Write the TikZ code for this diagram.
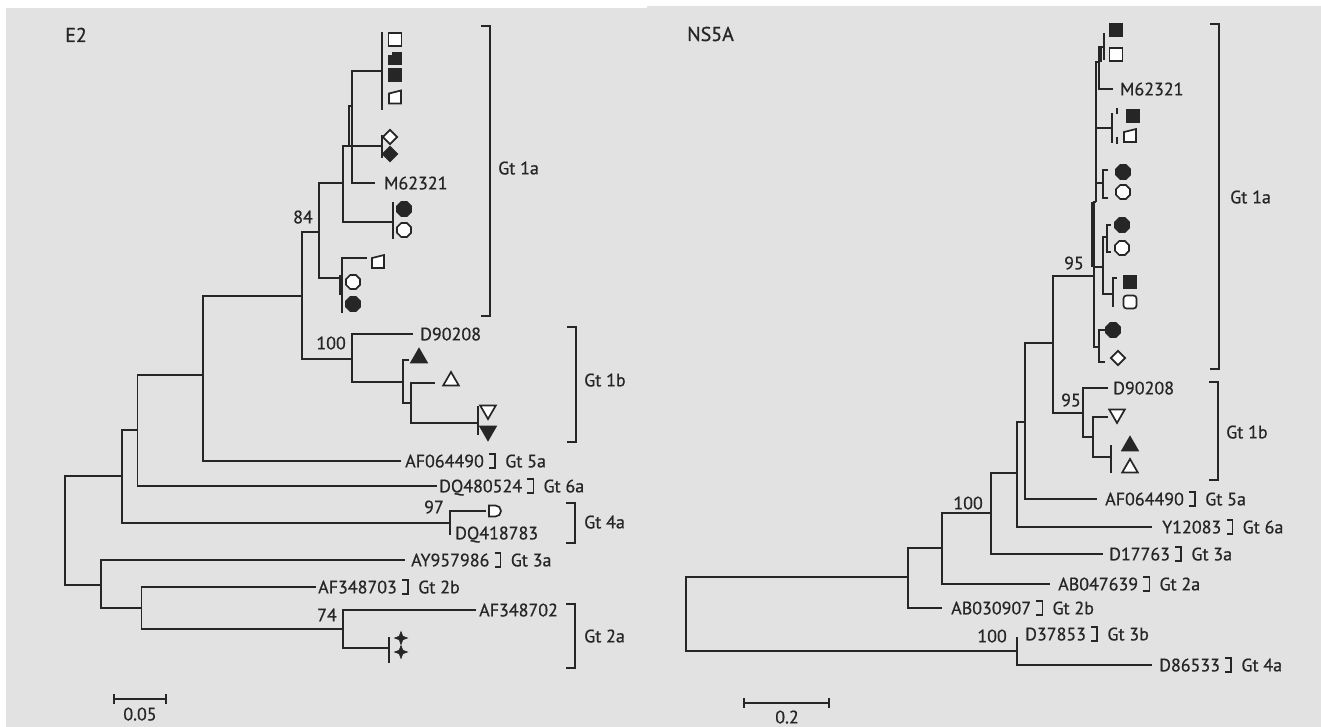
\documentclass[tikz,border=0pt]{standalone}
\usepackage{fontspec}
\setmainfont{PT Sans}[FakeBold=0.7]
\usetikzlibrary{shapes.geometric,shapes.misc}
\definecolor{bg}{HTML}{E2E2E2}
\definecolor{ink}{HTML}{262626}
\tikzset{
  br/.style={draw=ink, line width=1.5pt},
  lbl/.style={font=\fontsize{18}{18}\selectfont, text=ink, inner sep=0pt, text height=12.7pt, text depth=0pt},
  ttl/.style={font=\fontsize{20}{20}\selectfont, text=ink, inner sep=0pt, text height=14pt, text depth=0pt},
  sym/.style={draw=ink, line width=1.7pt, inner sep=0pt},
  sqo/.style={sym, rectangle, minimum width=13pt, minimum height=13pt, fill=white},
  sqf/.style={sym, rectangle, minimum width=13pt, minimum height=13pt, fill=ink},
  hxo/.style={sym, regular polygon, regular polygon sides=8, minimum size=15pt, fill=white},
  hxf/.style={sym, regular polygon, regular polygon sides=8, minimum size=15pt, fill=ink},
  dmo/.style={sym, diamond, minimum width=15pt, minimum height=15pt, fill=white},
  dmf/.style={sym, diamond, minimum width=15pt, minimum height=15pt, fill=ink},
  tuo/.style={sym, regular polygon, regular polygon sides=3, minimum size=18pt, fill=white},
  tuf/.style={sym, regular polygon, regular polygon sides=3, minimum size=18pt, fill=ink},
  tdo/.style={tuo, shape border rotate=180},
  tdf/.style={tuf, shape border rotate=180},
  dsh/.style={sym, rounded rectangle, rounded rectangle west arc=none, minimum width=12pt, minimum height=11pt, fill=white},
  stf/.style={sym, star, star points=4, star point ratio=2.6, minimum size=13pt, fill=ink, line width=0.6pt},
  nsq/.style={draw=ink, line width=1.7pt, line join=miter},
}
\newcommand\gtlab[6]{%
  \node[lbl,anchor=west] (#1) at (#2,#3) {#4};
  \draw[br] ([xshift=5pt,yshift=7pt]#1.east) -| ([xshift=11pt]#1.east) |- ([xshift=5pt,yshift=-7pt]#1.east);
  \node[lbl,anchor=west] (#6) at ([xshift=21pt]#1.east) {#5};}
% notched open square (top edge rising to the right)
\newcommand\nsqo[2]{\filldraw[nsq,fill=white] (#1-6,#2-4) -- (#1+6,#2-7) -- (#1+6,#2+6) -- (#1-6,#2+6) -- cycle;}
% notched filled square (step at top left)
\newcommand\nsqf[2]{\filldraw[nsq,fill=ink] (#1-6,#2-3) -- (#1-2,#2-3) -- (#1-2,#2-6) -- (#1+6,#2-6) -- (#1+6,#2+6) -- (#1-6,#2+6) -- cycle;}
\begin{document}
\begin{tikzpicture}[x=1pt,y=-1pt]
\useasboundingbox (0,0) rectangle (1321,727);
\fill[white] (0,0) rectangle (1321,727);
\fill[bg] (6,8) rectangle (647,727);
\fill[bg] (647,6) rectangle (1321,727);

% ================= LEFT PANEL (E2) =================
\node[ttl,anchor=west] (tE2) at (65,35) {E2};
\coordinate (L0) at (65,530);
\coordinate (L1) at (122,476);
\coordinate (L2) at (101,585);
\coordinate (L3) at (137.5,430);
\coordinate (L4) at (450,523);
\coordinate (L5) at (203,375);
\coordinate (eDQ480524) at (437,486);
\coordinate (L6) at (302,296);
\coordinate (eAF064490L) at (401,461);
\coordinate (L7) at (319,232);
\coordinate (L8) at (352,359);
\coordinate (L9) at (343,183);
\coordinate (L10) at (342,278);
\coordinate (L11) at (349,146);
\coordinate (H1) at (393,222);
\coordinate (L12) at (352,106);
\coordinate (D1) at (382,146);
\coordinate (T1) at (382,71);
\coordinate (eM62321L) at (375,183);
\coordinate (T1a) at (382,32);
\coordinate (T1b) at (382,110);
\coordinate (D1a) at (382,135);
\coordinate (D1b) at (382,158);
\coordinate (H1a) at (393,202);
\coordinate (H1b) at (393,239);
\coordinate (eL10q) at (367,258);
\coordinate (L10b) at (342,313);
\coordinate (eD90208L) at (413,334);
\coordinate (L13) at (403,382);
\coordinate (eL13a) at (409,360);
\coordinate (L14) at (411,403);
\coordinate (eL14a) at (435,383);
\coordinate (L15) at (478,423);
\coordinate (L15a) at (478,406);
\coordinate (L15b) at (478,435);
\coordinate (eL4a) at (486,511);
\coordinate (eL4b) at (450,535);
\coordinate (eAY957986) at (405,560);
\coordinate (L16) at (141.5,608);
\coordinate (eAF348703) at (316,587);
\coordinate (L17) at (343,629);
\coordinate (eAF348702) at (476,610);
\coordinate (L18) at (389,648);
\coordinate (L18a) at (389,637);
\coordinate (L18b) at (389,663);

\foreach \p/\c in {L0/L1, L0/L2, L1/L3, L1/L4, L3/L5, L3/eDQ480524, L5/L6, L5/eAF064490L,
  L6/L7, L6/L8, L7/L9, L7/L10, L9/L11, L9/H1, L11/L12, L11/D1, L12/T1, L12/eM62321L,
  T1/T1a, T1/T1b, D1/D1a, D1/D1b, H1/H1a, H1/H1b, L10/eL10q, L10/L10b,
  L8/eD90208L, L8/L13, L13/eL13a, L13/L14, L14/eL14a, L14/L15, L15/L15a, L15/L15b,
  L4/eL4a, L4/eL4b, L2/eAY957986, L2/L16, L16/eAF348703, L16/L17, L17/eAF348702,
  L17/L18, L18/L18a, L18/L18b}
  \draw[br] (\p) |- (\c);
\draw[br] ([xshift=-2pt,yshift=3pt]L10) -- ([xshift=-2pt,yshift=-17pt]L10);

% symbols left
\node[sqo] (sL1) at (395,39.5) {};
\nsqf{395}{58.5}
\node[sqf] (sL3) at (395,75) {};
\nsqo{395}{97.5}
\node[dmo] (sL5) at (390,137) {};
\node[dmf] (sL6) at (390,154) {};
\node[hxf] (sL7) at (404,209) {};
\node[hxo] (sL8) at (404,230) {};
\nsqo{378}{262}
\node[hxo] (sL10) at (353,282) {};
\node[hxf] (sL11) at (353,304) {};
\node[tuf] (sL12) at (419,358) {};
\node[tuo] (sL13) at (451,381) {};
\node[tdo] (sL14) at (488,410) {};
\node[tdf] (sL15) at (488,431) {};
\node[dsh] (sL16) at (495,511) {};
\node[stf] (sL17) at (401,638) {};
\node[stf] (sL18) at (401,652) {};

% labels left
\node[lbl,anchor=west] (tM62321L) at (384,183) {M62321};
\node[lbl,anchor=east] (b84) at (313,217) {84};
\node[lbl,anchor=east] (b100L) at (346,343) {100};
\node[lbl,anchor=west] (tD90208L) at (420,334) {D90208};
\gtlab{tAF064490L}{405}{461}{AF064490}{Gt 5a}{g5aL}
\gtlab{tDQ480524}{439}{486}{DQ480524}{Gt 6a}{g6aL}
\node[lbl,anchor=east] (b97) at (444,507) {97};
\node[lbl,anchor=west] (tDQ418783) at (455,533) {DQ418783};
\gtlab{tAY957986}{411}{560}{AY957986}{Gt 3a}{g3aL}
\gtlab{tAF348703}{318}{587}{AF348703}{Gt 2b}{g2bL}
\node[lbl,anchor=east] (b74) at (337,615) {74};
\node[lbl,anchor=west] (tAF348702) at (479,610) {AF348702};

% clade brackets left
\draw[br] (481,26) -- (490,26) -- (490,316) -- (481,316);
\node[lbl,anchor=west] (g1aL) at (498,168) {Gt 1a};
\draw[br] (567,327) -- (576,327) -- (576,442) -- (567,442);
\node[lbl,anchor=west] (g1bL) at (584,380) {Gt 1b};
\draw[br] (566,503) -- (575,503) -- (575,543) -- (566,543);
\node[lbl,anchor=west] (g4aL) at (584,522) {Gt 4a};
\draw[br] (566,604) -- (575,604) -- (575,668) -- (566,668);
\node[lbl,anchor=west] (g2aL) at (584,636) {Gt 2a};

% scale bar left
\draw[br] (114,694) -- (114,704) (114,699) -- (166,699) (166,694) -- (166,704);
\node[lbl,anchor=center] (sc1) at (140,714) {0.05};

% ================= RIGHT PANEL (NS5A) =================
\node[ttl,anchor=west] (tNS5A) at (687,34) {NS5A};
\coordinate (R0) at (686,614);
\coordinate (R1) at (908,577);
\coordinate (R2) at (1017,651);
\coordinate (eD37853) at (1017,637);
\coordinate (eD86533) at (1152,665);
\coordinate (R3) at (942,548);
\coordinate (eAB030907) at (942,608);
\coordinate (R4) at (991,513);
\coordinate (eAB047639) at (1050,584);
\coordinate (R5) at (1017,473);
\coordinate (eD17763) at (1103,554);
\coordinate (R6) at (1025,422);
\coordinate (eY12083) at (1152,527);
\coordinate (R7) at (1053,343);
\coordinate (eAF064490R) at (1097,499);
\coordinate (R8) at (1094,276);
\coordinate (R9) at (1083,413);
\coordinate (eD90208R) at (1108,388);
\coordinate (R10) at (1093,437);
\coordinate (eR10a) at (1108,417);
\coordinate (R11) at (1111,457);
\coordinate (R11a) at (1111,445);
\coordinate (R11b) at (1111,473);
\coordinate (Rup) at (1096,202);
\coordinate (R12) at (1103,267);
\coordinate (Rdn) at (1099,347);
\coordinate (Rt) at (1099,62);
\coordinate (Rsq2) at (1112,128);
\coordinate (Rhex1) at (1103,183);
\coordinate (Rtop2) at (1104,47);
\coordinate (eM62321R) at (1113,89);
\coordinate (Rtop2a) at (1104,33);
\coordinate (Rtop2b) at (1104,60);
\coordinate (Rsq2a) at (1112,113);
\coordinate (Rsq2b) at (1112,143);
\coordinate (Rhex1a) at (1108,170);
\coordinate (Rhex1b) at (1108,198);
\coordinate (Rhex2) at (1107,237);
\coordinate (Rsq3) at (1113,294);
\coordinate (Rhex2a) at (1111,225);
\coordinate (Rhex2b) at (1111,252);
\coordinate (Rsq3a) at (1117,278);
\coordinate (Rsq3b) at (1113,307);
\coordinate (Rdna) at (1105,330);
\coordinate (Rdnb) at (1105,362);

\foreach \p/\c in {R0/R1, R0/R2, R2/eD37853, R2/eD86533, R1/R3, R1/eAB030907, R3/R4, R3/eAB047639,
  R4/R5, R4/eD17763, R5/R6, R5/eY12083, R6/R7, R6/eAF064490R, R7/R8, R7/R9,
  R9/eD90208R, R9/R10, R10/eR10a, R10/R11, R11/R11a, R11/R11b,
  R8/Rup, R8/R12, R8/Rdn, Rup/Rt, Rup/Rsq2, Rup/Rhex1, Rt/Rtop2, Rt/eM62321R,
  Rtop2/Rtop2a, Rtop2/Rtop2b, Rsq2/Rsq2a, Rsq2/Rsq2b, Rhex1/Rhex1a, Rhex1/Rhex1b,
  R12/Rhex2, R12/Rsq3, Rhex2/Rhex2a, Rhex2/Rhex2b, Rsq3/Rsq3a, Rsq3/Rsq3b, Rdn/Rdna, Rdn/Rdnb}
  \draw[br] (\p) |- (\c);
\draw[br] (1092,202) -- (1092,267);
\draw[br] (1101,47) -- (1101,62);
\draw[br] (1117,108) -- (1117,114) (1117,137) -- (1117,144);

% symbols right
\node[sqf] (sR1) at (1116,30) {};
\node[sqo] (sR2) at (1116,54.5) {};
\node[sqf] (sR3) at (1133,116) {};
\nsqo{1130}{136}
\node[hxf] (sR5) at (1123,172) {};
\node[hxo] (sR6) at (1123,192) {};
\node[hxf] (sR7) at (1122,225) {};
\node[hxo] (sR8) at (1122,248) {};
\node[sqf] (sR9) at (1130,282) {};
\node[sqo,rounded corners=3pt] (sR10) at (1130,302) {};
\node[hxf] (sR11) at (1113,330) {};
\node[dmo] (sR12) at (1118,358) {};
\node[tdo] (sR13) at (1117,414) {};
\node[tuf] (sR14) at (1130,446) {};
\node[tuo] (sR15) at (1130,468) {};

% labels right
\node[lbl,anchor=west] (tM62321R) at (1120,89) {M62321};
\node[lbl,anchor=east] (b95a) at (1084,263) {95};
\node[lbl,anchor=east] (b95b) at (1081,400) {95};
\node[lbl,anchor=west] (tD90208R) at (1113,388) {D90208};
\gtlab{tAF064490R}{1105}{499}{AF064490}{Gt 5a}{g5aR}
\gtlab{tY12083}{1162}{527}{Y12083}{Gt 6a}{g6aR}
\gtlab{tD17763}{1109}{554}{D17763}{Gt 3a}{g3aR}
\node[lbl,anchor=east] (b100R) at (983,503) {100};
\gtlab{tAB047639}{1058}{584}{AB047639}{Gt 2a}{g2aR}
\gtlab{tAB030907}{951}{608}{AB030907}{Gt 2b}{g2bR}
\node[lbl,anchor=east] (b100S) at (1007,636) {100};
\gtlab{tD37853}{1025}{634}{D37853}{Gt 3b}{g3bR}
\gtlab{tD86533}{1159}{665}{D86533}{Gt 4a}{g4aR}

% clade brackets right
\draw[br] (1210,24) -- (1219,24) -- (1219,369) -- (1210,369);
\node[lbl,anchor=west] (g1aR) at (1230,197) {Gt 1a};
\draw[br] (1209,382) -- (1218,382) -- (1218,480) -- (1209,480);
\node[lbl,anchor=west] (g1bR) at (1226,432) {Gt 1b};

% scale bar right
\draw[br] (744,698) -- (744,708) (744,703) -- (829,703) (829,698) -- (829,708);
\node[lbl,anchor=center] (sc2) at (787,717) {0.2};
\end{tikzpicture}
\end{document}
